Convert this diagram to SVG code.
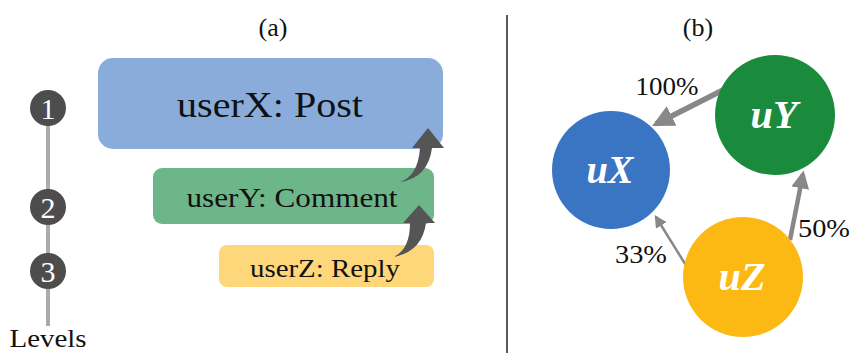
<svg xmlns="http://www.w3.org/2000/svg" width="851" height="353" viewBox="0 0 851 353">
<defs>
<style>
text{font-family:'Liberation Serif','DejaVu Serif','Times New Roman',serif}
.t{fill:#111}
.lv{fill:#fff;font-size:30px}
.nd{fill:#fff;font-size:39px;font-weight:bold;font-style:italic}
.e{stroke:#888;fill:none}
.cv{fill:#555}
</style>
<marker id="ah" viewBox="0 0 10 10" refX="8" refY="5" markerWidth="4" markerHeight="4" orient="auto" markerUnits="strokeWidth"><path d="M0,0 L10,5 L0,10 z" fill="#888"/></marker>
<marker id="ah2" viewBox="0 0 10 10" refX="8" refY="5" markerWidth="5" markerHeight="5" orient="auto" markerUnits="strokeWidth"><path d="M0,0 L10,5 L0,10 z" fill="#888"/></marker>
</defs>
<rect width="851" height="353" fill="#fff"/>
<text class="t" x="273" y="36" font-size="26" text-anchor="middle" fill="#333">(a)</text>
<text class="t" x="698" y="36" font-size="26" text-anchor="middle" fill="#333">(b)</text>
<line x1="507" y1="15" x2="507" y2="353" stroke="#222" stroke-width="1.5"/>
<g id="levels">
<line x1="48" y1="108" x2="48" y2="326" stroke="#aaa" stroke-width="4"/>
<circle cx="48" cy="108" r="18" fill="#4d4d4d"/>
<text class="lv" x="48" y="119" text-anchor="middle">1</text>
<circle cx="48" cy="207" r="18" fill="#4d4d4d"/>
<text class="lv" x="48" y="218" text-anchor="middle">2</text>
<circle cx="48" cy="271" r="18" fill="#4d4d4d"/>
<text class="lv" x="48" y="282" text-anchor="middle">3</text>
<text class="t" x="48" y="347" font-size="26" text-anchor="middle" fill="#333" textLength="77" lengthAdjust="spacingAndGlyphs">Levels</text>
</g>
<g id="post">
<rect x="98" y="58" width="345" height="91" rx="15" fill="#89acdb"/>
<text class="t" x="270" y="117" font-size="36" text-anchor="middle" textLength="186" lengthAdjust="spacingAndGlyphs">userX: Post</text>
</g>
<g id="comment">
<rect x="153" y="168" width="281" height="56" rx="9" fill="#6db68a"/>
<text class="t" x="292" y="207" font-size="27" text-anchor="middle" textLength="211" lengthAdjust="spacingAndGlyphs">userY: Comment</text>
</g>
<g id="reply">
<rect x="219" y="245" width="215" height="42" rx="8" fill="#fdd77a"/>
<text class="t" x="325" y="277" font-size="25" text-anchor="middle" textLength="150" lengthAdjust="spacingAndGlyphs">userZ: Reply</text>
</g>
<g id="connectors">
<path class="cv" d="M400,182 Q418,176 420,148 L412,148 L428,128 L444,148 L432,148 Q428,178 400,182 z"/>
<path class="cv" d="M393,257 Q410,250 410,223 L403,223 L419,205 L435,223 L426,223 Q422,252 393,257 z"/>
<line class="e" x1="723" y1="90" x2="656" y2="124" stroke-width="5.5" marker-end="url(#ah)"/>
<line class="e" x1="790" y1="240" x2="803" y2="174" stroke-width="4.5" marker-end="url(#ah)"/>
<line class="e" x1="687" y1="267" x2="656" y2="217" stroke-width="2.5" marker-end="url(#ah2)"/>
<text class="t" x="667" y="95" font-size="25" text-anchor="middle" fill="#333" textLength="63" lengthAdjust="spacingAndGlyphs">100%</text>
<text class="t" x="824" y="237" font-size="25" text-anchor="middle" fill="#333" textLength="52" lengthAdjust="spacingAndGlyphs">50%</text>
<text class="t" x="641" y="263" font-size="25" text-anchor="middle" fill="#333" textLength="52" lengthAdjust="spacingAndGlyphs">33%</text>
</g>
<g id="uX">
<circle cx="611" cy="170" r="59" fill="#3a75c4"/>
<text class="nd" x="610" y="183" text-anchor="middle" textLength="47" lengthAdjust="spacingAndGlyphs">uX</text>
</g>
<g id="uY">
<circle cx="775" cy="115" r="60" fill="#1a8a3c"/>
<text class="nd" x="774" y="128" text-anchor="middle" textLength="47" lengthAdjust="spacingAndGlyphs">uY</text>
</g>
<g id="uZ">
<circle cx="743" cy="277" r="60" fill="#fdb913"/>
<text class="nd" x="742" y="290" text-anchor="middle" textLength="47" lengthAdjust="spacingAndGlyphs">uZ</text>
</g>
</svg>
